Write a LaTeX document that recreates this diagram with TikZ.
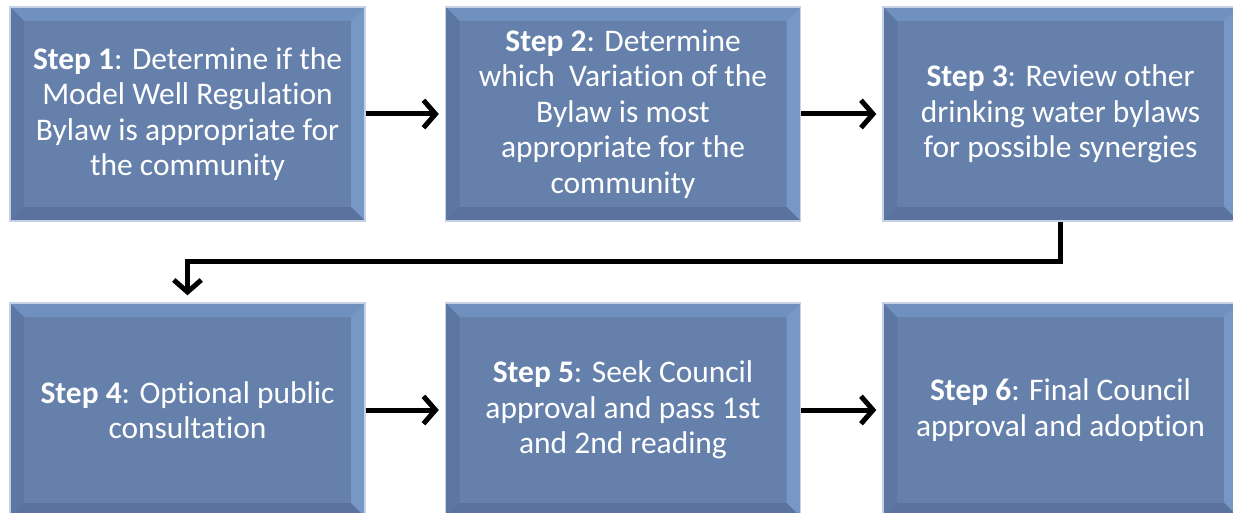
\documentclass[tikz,border=0pt]{standalone}
\usepackage{fontspec}
\setmainfont{Carlito}[Ligatures=NoCommon]
\usetikzlibrary{arrows.meta}

\definecolor{boxface}{HTML}{6581AB}
\definecolor{bevlight}{HTML}{7797C7}
\definecolor{bevtop}{HTML}{7090BF}
\definecolor{bevdark}{HTML}{5A729D}
\definecolor{bevleft}{HTML}{5D77A3}
\definecolor{boxrim}{HTML}{C4D1E6}

\tikzset{
  stepbox/.style={rectangle, minimum width=7.1cm, minimum height=4.28cm,
    fill=boxface, draw=boxrim, line width=0.8pt, text=white, align=center,
    font=\fontsize{17.9}{20.2}\selectfont, inner sep=0pt,
    path picture={
      \def\b{0.28cm}
      \fill[bevtop] (path picture bounding box.north west) -- (path picture bounding box.north east)
        -- ([shift={(-\b,-\b)}]path picture bounding box.north east) -- ([shift={(\b,-\b)}]path picture bounding box.north west) -- cycle;
      \fill[bevlight] (path picture bounding box.north east) -- (path picture bounding box.south east)
        -- ([shift={(-\b,\b)}]path picture bounding box.south east) -- ([shift={(-\b,-\b)}]path picture bounding box.north east) -- cycle;
      \fill[bevdark] (path picture bounding box.south east) -- (path picture bounding box.south west)
        -- ([shift={(\b,\b)}]path picture bounding box.south west) -- ([shift={(-\b,\b)}]path picture bounding box.south east) -- cycle;
      \fill[bevleft] (path picture bounding box.south west) -- (path picture bounding box.north west)
        -- ([shift={(\b,-\b)}]path picture bounding box.north west) -- ([shift={(\b,\b)}]path picture bounding box.south west) -- cycle;
    }},
  flow/.style={line width=0.1cm, -{Straight Barb[length=0.24cm,width=0.55cm]}}
}

\begin{document}
\begin{tikzpicture}
  \useasboundingbox (0,0) rectangle (24.66,10.24);
  % top row
  \node[stepbox] (s1) at (3.75,7.96) {\textbf{Step 1}: Determine if the\\Model Well Regulation\\Bylaw is appropriate for\\the community};
  \node[stepbox] (s2) at (12.46,7.96) {\textbf{Step 2}: Determine\\which\ \ Variation of the\\Bylaw is most\\appropriate for the\\community};
  \node[stepbox] (s3) at (21.21,7.96) {\textbf{Step 3}: Review other\\drinking water bylaws\\for possible synergies};
  % bottom row
  \node[stepbox] (s4) at (3.75,2.04) {\textbf{Step 4}: Optional public\\consultation};
  \node[stepbox] (s5) at (12.46,2.04) {\textbf{Step 5}: Seek Council\\approval and pass 1st\\and 2nd reading};
  \node[stepbox] (s6) at (21.21,2.04) {\textbf{Step 6}: Final Council\\approval and adoption};
  % connectors
  \foreach \a/\b in {s1/s2,s2/s3,s4/s5,s5/s6}
    \draw[flow] (\a.east) -- ([xshift=-0.12cm]\b.west);
  \draw[flow] (s3.south) -- ++(0,-0.8) -| ([yshift=0.14cm]s4.north);
\end{tikzpicture}
\end{document}
